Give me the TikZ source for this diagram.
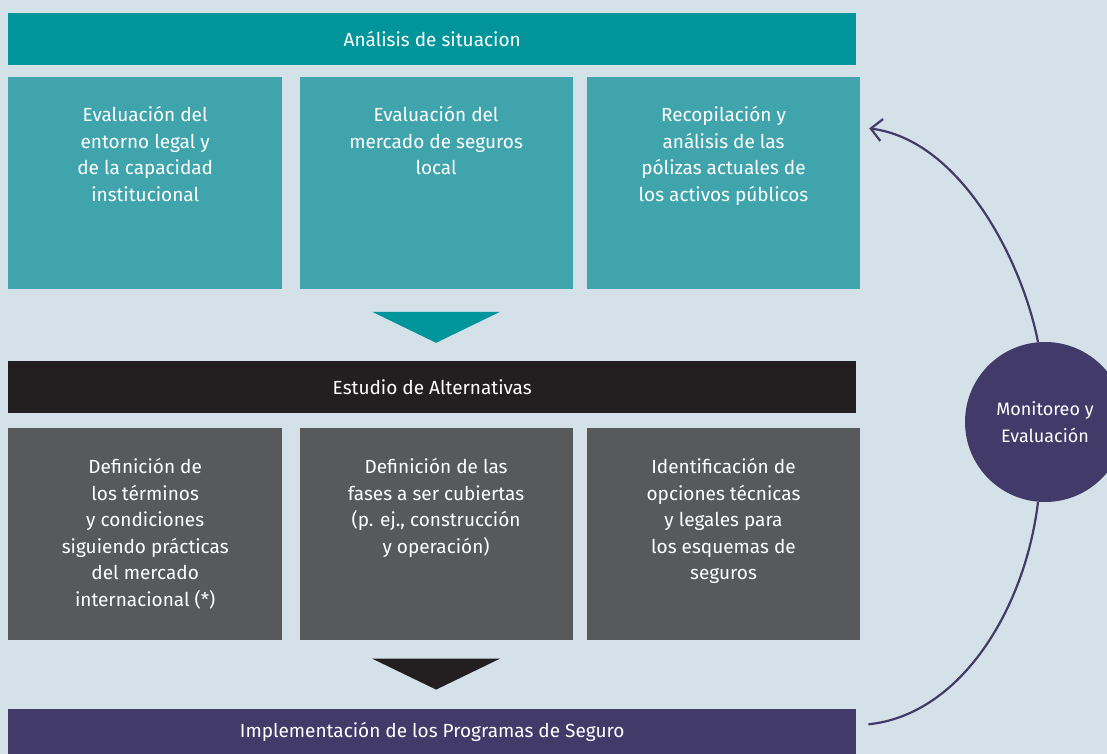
\documentclass[tikz,border=0pt]{standalone}
\usepackage{fontspec}
\setmainfont{Fira Sans}
\usetikzlibrary{arrows.meta, positioning}
\definecolor{bgcolor}{RGB}{213,225,233}
\definecolor{sitcolor}{RGB}{0,149,154}
\definecolor{sitcell}{RGB}{64,164,172}
\definecolor{altcolor}{RGB}{35,31,32}
\definecolor{altcell}{RGB}{88,89,91}
\definecolor{implcolor}{RGB}{66,58,105}

\begin{document}
\begin{tikzpicture}[x=1pt, y=-1pt,
        bar/.style={rectangle, minimum width=848pt, minimum height=52pt, inner sep=0pt, text=white, font=\fontsize{19}{22}\selectfont},
        cell/.style={rectangle, minimum height=212pt, inner sep=0pt},
        celltext/.style={align=center, text=white, inner sep=0pt, font=\fontsize{19}{26.5}\selectfont},
        loopline/.style={line width=2.2pt, draw=implcolor}
    ]
        % Background
        \fill[bgcolor] (0,0) rectangle (1107,754);
        \useasboundingbox (0,0) rectangle (1107,754);

        % Situation analysis
        \node[bar, fill=sitcolor, anchor=north west] (sit) at (8,13) {Análisis de situacion};
        \node[cell, fill=sitcell, minimum width=274pt, below right=11pt and 0pt of sit.south west] (a1) {};
        \node[cell, fill=sitcell, minimum width=273pt, right=17pt of a1] (a2) {};
        \node[cell, fill=sitcell, minimum width=273pt, right=14pt of a2] (a3) {};
        \node[celltext, below=30pt of a1.north] (a1t) {Evaluación del\\entorno legal y\\de la capacidad\\institucional};
        \node[celltext, below=30pt of a2.north] (a2t) {Evaluación del\\mercado de seguros\\local};
        \node[celltext, below=30pt of a3.north] (a3t) {Recopilación y\\análisis de las\\pólizas actuales de\\los activos públicos};

        % Alternatives
        \node[bar, fill=altcolor, below right=72pt and 0pt of a1.south west] (alt) {Estudio de Alternativas};
        \node[cell, fill=altcell, minimum width=274pt, below right=15pt and 0pt of alt.south west] (b1) {};
        \node[cell, fill=altcell, minimum width=273pt, right=17pt of b1] (b2) {};
        \node[cell, fill=altcell, minimum width=273pt, right=14pt of b2] (b3) {};
        \node[celltext, below=30pt of b1.north] (b1t) {Definición de\\los términos\\y condiciones\\siguiendo prácticas\\del mercado\\internacional (*)};
        \node[celltext, below=30pt of b2.north] (b2t) {Definición de las\\fases a ser cubiertas\\(p. ej., construcción\\y operación)};
        \node[celltext, below=30pt of b3.north] (b3t) {Identificación de\\opciones técnicas\\y legales para\\los esquemas de\\seguros};

        % Implementation
        \node[bar, fill=implcolor, minimum height=47pt, below right=68pt and 0pt of b1.south west] (impl) {Implementación de los Programas de Seguro};

        % Down arrows
        \fill[sitcolor] ([xshift=-64pt,yshift=-23pt]a2.south) -- ++(128,0) -- ([yshift=-54pt]a2.south) -- cycle;
        \fill[altcolor] ([xshift=-64pt,yshift=-18pt]b2.south) -- ++(128,0) -- ([yshift=-49pt]b2.south) -- cycle;

        % Monitoring loop
        \node[circle, fill=implcolor, minimum size=160pt, inner sep=0pt, align=center, text=white, font=\fontsize{18}{27}\selectfont] (mon) at (1045,422) {Monitoreo y\\Evaluación};
        \draw[loopline] ([xshift=12pt,yshift=8pt]impl.east) .. controls (960,715) and (1025,610) .. (mon.265);
        \draw[loopline, -{Straight Barb[length=11pt, width=22pt]}] (mon.95) .. controls (1022,260) and (960,140) .. ([xshift=9pt,yshift=-52pt]a3.north east);

    \end{tikzpicture}
\end{document}
